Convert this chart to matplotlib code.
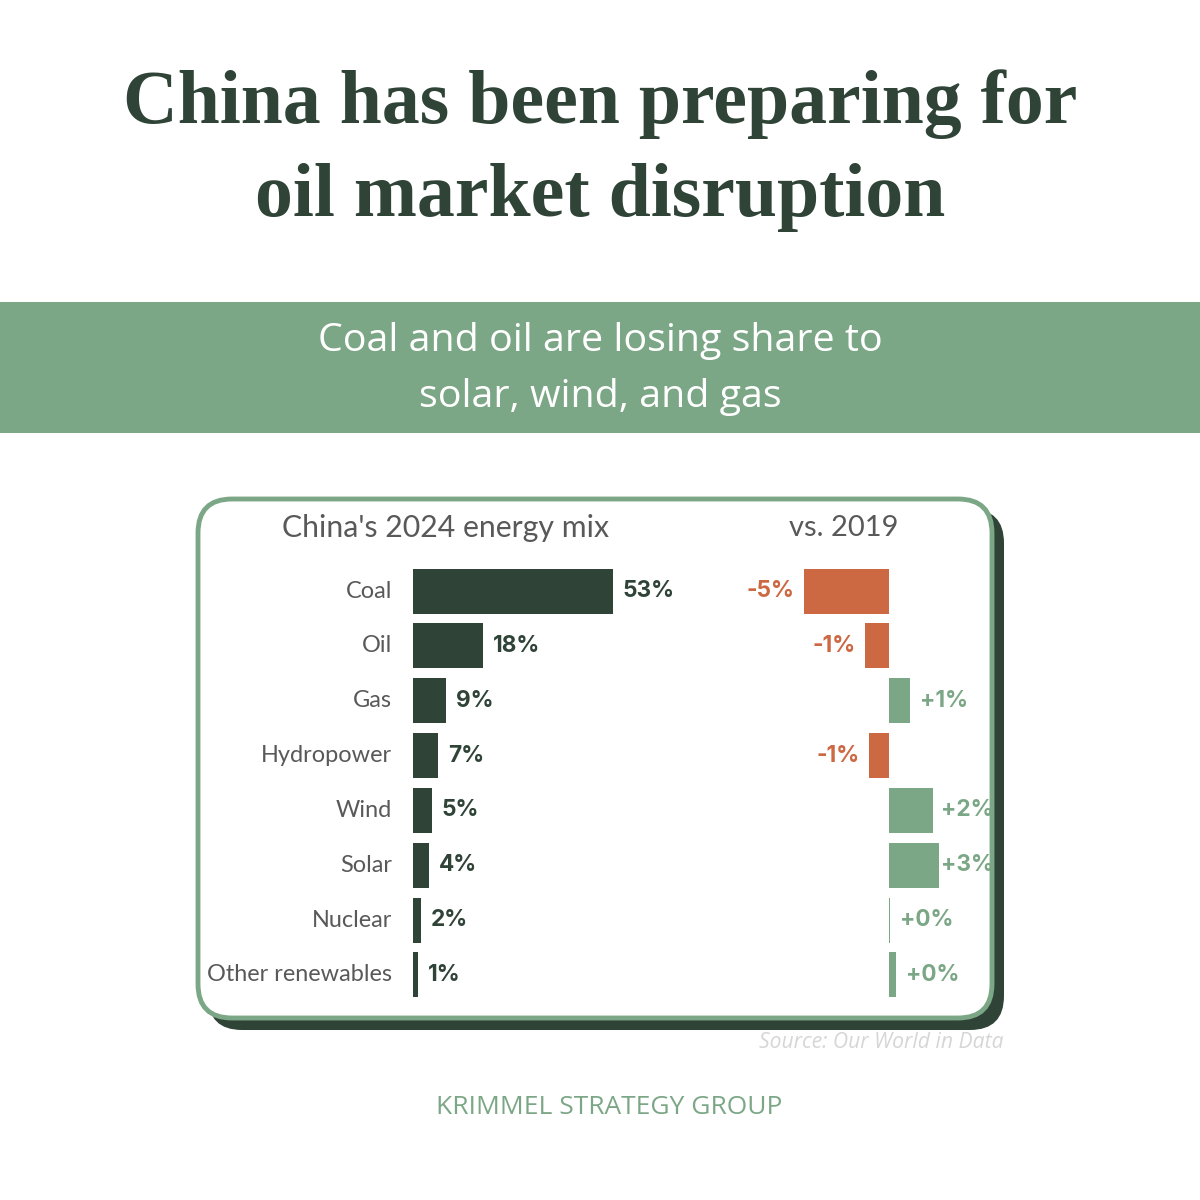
import matplotlib
matplotlib.use("Agg")
import matplotlib.pyplot as plt
from matplotlib.patches import FancyBboxPatch, Rectangle

# data
categories = ["Coal", "Oil", "Gas", "Hydropower", "Wind", "Solar", "Nuclear", "Other renewables"]
share_2024 = [52.6, 18.4, 8.7, 6.6, 5.0, 4.2, 2.0, 1.4]
change_vs_2019 = [-4.7, -1.33, 1.17, -1.1, 2.45, 2.8, 0.05, 0.4]

title_lines = ["China has been preparing for", "oil market disruption"]
subtitle_lines = ["Coal and oil are losing share to", "solar, wind, and gas"]
left_header = "China's 2024 energy mix"
right_header = "vs. 2019"
source = "Source: Our World in Data"
footer = "KRIMMEL STRATEGY GROUP"

DARK = "#2f4337"
GREEN = "#7ca786"
ORANGE = "#cc6842"
GRAY = "#595959"

W = H = 1200
fig = plt.figure(figsize=(12, 12), dpi=100)
fig.patch.set_facecolor("white")

# background axes in pixel coordinates
bg = fig.add_axes([0, 0, 1, 1])
bg.set_xlim(0, W)
bg.set_ylim(H, 0)
bg.axis("off")

for y, line in zip([104, 198], title_lines):
    bg.text(600, y, line, ha="center", va="center", fontsize=54.5,
            fontweight="bold", family="Liberation Serif", color=DARK)

bg.add_patch(Rectangle((0, 302), W, 131, facecolor=GREEN, edgecolor="none"))
for y, line in zip([341, 397], subtitle_lines):
    bg.text(600, y, line, ha="center", va="center", fontsize=28.4,
            family="Open Sans", color="white")

# card with shadow
r = 34
bg.add_patch(FancyBboxPatch((208 + r, 509 + r), 796 - 2 * r, 521 - 2 * r,
                            boxstyle=f"round,pad={r}", facecolor=DARK, edgecolor="none"))
bg.add_patch(FancyBboxPatch((198 + r, 499 + r), 794 - 2 * r, 519 - 2 * r,
                            boxstyle=f"round,pad={r}", facecolor="white",
                            edgecolor=GREEN, linewidth=3.5))

bg.text(446, 528, left_header, ha="center", va="center",
        fontsize=21.8, family="Lato", color=GRAY)
bg.text(844, 528, right_header, ha="center", va="center",
        fontsize=21, family="Lato", color=GRAY)

bg.text(1004, 1043, source, ha="right", va="center", fontsize=15.2,
        family="Open Sans", style="italic", color="#d6d6d6")
bg.text(609, 1108, footer, ha="center", va="center", fontsize=19,
        family="Open Sans", color=GREEN)

# bar axes, placed by pixel positions
row_top, row_bot = 563.6, 1002.4
def px_axes(x0, x1):
    return fig.add_axes([x0 / W, 1 - row_bot / H, (x1 - x0) / W, (row_bot - row_top) / H])

n = len(categories)
ypos = list(range(n))

# left panel: 2024 shares
ax1 = px_axes(413, 713)
ax1.set_xlim(0, 300 / 3.8)
ax1.set_ylim(n - 0.5, -0.5)
ax1.barh(ypos, share_2024, height=0.82, color=DARK)
for y, v, c in zip(ypos, share_2024, categories):
    ax1.text(v + 2.6, y, f"{v:.0f}%", ha="left", va="center", fontsize=16.3,
             fontweight="bold", family="Inter", color=DARK)
    ax1.text(-5.5, y, c, ha="right", va="center", fontsize=16.9,
             family="Lato", color=GRAY)
ax1.axis("off")

# right panel: change vs 2019
ax2 = px_axes(790, 990)
ax2.set_xlim(-(889 - 790) / 18, (990 - 889) / 18)
ax2.set_ylim(n - 0.5, -0.5)
cols = [ORANGE if v < 0 else GREEN for v in change_vs_2019]
ax2.barh(ypos, change_vs_2019, height=0.82, color=cols)
for y, v, c in zip(ypos, change_vs_2019, cols):
    lab = f"{v:+.0f}%"
    if v < 0:
        ax2.text(v - 0.55, y, lab, ha="right", va="center", fontsize=16.3,
                 fontweight="bold", family="Inter", color=c)
    else:
        # keep labels inside the card
        ax2.text(min(v + 0.55, 2.9), y, lab, ha="left", va="center", fontsize=16.3,
                 fontweight="bold", family="Inter", color=c)
ax2.axis("off")
for a in (ax1, ax2):
    a.patch.set_alpha(0)
    for t in a.texts:
        t.set_clip_on(False)

fig.savefig("out.png", dpi=100)
